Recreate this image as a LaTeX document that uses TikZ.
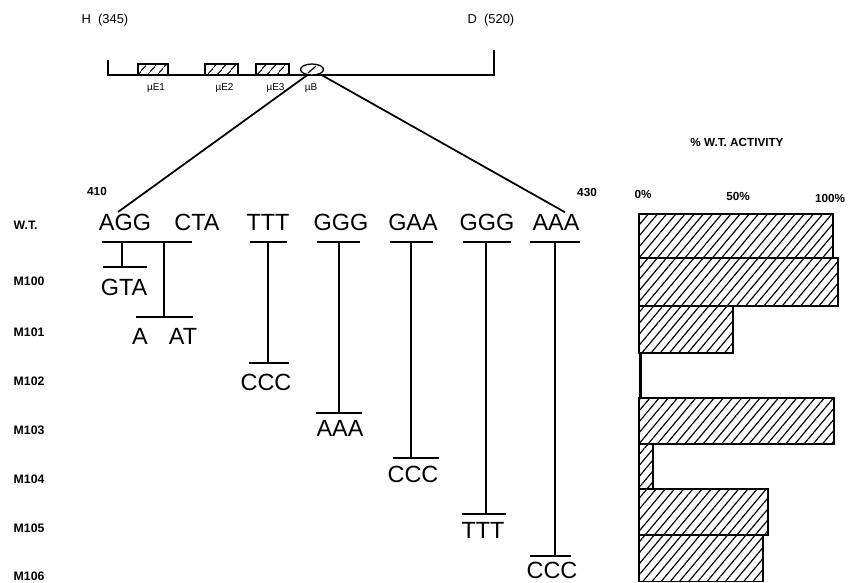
\documentclass[tikz,border=0pt]{standalone}
\usepackage{fontspec}
\setmainfont{Liberation Sans}
\usepackage{tikz}
\usetikzlibrary{calc}
\usetikzlibrary{shapes.geometric}
\usetikzlibrary{patterns.meta}
\usetikzlibrary{positioning}

\tikzset{
    codon/.style={font=\fontsize{20}{20}\selectfont, inner sep=0pt},
    rowlabel/.style={font=\fontsize{10.5}{11}\selectfont\bfseries, inner sep=0pt, anchor=west},
    scalelabel/.style={font=\fontsize{10}{11}\selectfont\bfseries, inner sep=0pt},
    tiny/.style={font=\fontsize{8.5}{9}\selectfont, inner sep=0pt},
    endlabel/.style={font=\fontsize{11}{12}\selectfont, inner sep=0pt},
    hatchbar/.style={draw, line width=1.3pt, pattern={Lines[angle=50, distance=6pt, line width=1pt]}},
    hatchbox/.style={draw, line width=1.1pt, pattern={Lines[angle=50, distance=6.5pt, line width=1.1pt]}}
}

\begin{document}
\begin{tikzpicture}[x=0.03cm, y=-0.03cm, line width=1.2pt]
    \useasboundingbox (0,0) rectangle (849,582);

    % 1. The H--D fragment with the enhancer motifs
    \node[endlabel] (h) at (105,20) {H\ \ (345)};
    \node[endlabel] (d) at (491,20) {D\ \ (520)};
    \draw (108,60) -- (108,75) -- (494,75) -- (494,50);
    \foreach \name/\xl/\xr in {E1/138/168, E2/205/238, E3/256/289} {
        \draw[hatchbox] (\xl,64) rectangle (\xr,75);
        \node[tiny] (l\name) at ({(\xl+\xr)/2+3},88) {µ\name};
    }
    \node[draw, ellipse, line width=1.1pt, fill=white, minimum width=0.69cm, minimum height=0.33cm, inner sep=0pt] (ub) at (312,69.5) {};
    \draw[line width=1pt] (308,73) -- (316,66);
    \node[tiny] (lB) at (311,88) {µB};

    % 2. The wild-type sequence 410--430
    \foreach \n/\x/\s in {1/125/AGG, 2/197/CTA, 3/268/TTT, 4/341/GGG, 5/413/GAA, 6/487/GGG, 7/556/AAA} {
        \node[codon] (w\n) at (\x,222) {\s};
    }
    \node[scalelabel] (p410) at (97,191) {410};
    \node[scalelabel] (p430) at (587,192) {430};
    \draw[line width=1.5pt] (ub.230) -- ($(w1.north)+(-7,-1)$);
    \draw[line width=1.5pt] (ub.330) -- ($(w7.north)+(9,-1)$);

    % underlines below the wild-type codons
    \foreach \xl/\xr in {102/192, 250/287, 317/360, 390/433, 463/511, 530/580} {
        \draw (\xl,242) -- (\xr,242);
    }

    % 3. Row labels
    \foreach \lab/\y in {W.T./225, M100/281, M101/332, M102/381, M103/430, M104/479, M105/528, M106/576} {
        \node[rowlabel] (r\lab) at (13,\y) {\lab};
    }

    % 4. The substituted codons, each hanging from the wild-type line
    \node[codon] (m100) at (124,287) {GTA};
    \node[codon] (m101a) at (140,336) {A};
    \node[codon] (m101b) at (183,336) {AT};
    \node[codon] (m102) at (266,382) {CCC};
    \node[codon] (m103) at (340,428) {AAA};
    \node[codon] (m104) at (413,474) {CCC};
    \node[codon] (m105) at (483,530) {TTT};
    \node[codon] (m106) at (552,570) {CCC};
    \foreach \x/\yb/\xl/\xr in {122/267/103/147, 164/317/136/193, 268/363/249/289, 339/413/316/362, 411/458/393/439, 486/514/462/506, 555/556/530/571} {
        \draw (\x,242) -- (\x,\yb);
        \draw (\xl,\yb) -- (\xr,\yb);
    }

    % 5. Activity bars, 0% at x=639 and 100% at x=833
    \node[scalelabel] (title) at (737,142) {\% W.T. ACTIVITY};
    \node[scalelabel] (a0) at (643,194) {0\%};
    \node[scalelabel] (a50) at (738,196) {50\%};
    \node[scalelabel] (a100) at (830,198) {100\%};
    \foreach \yt/\yb/\v in {214/258/100, 258/306/102.6, 306/353/48.5, 398/444/100.5, 444/489/7.2, 489/535/66.5, 535/581.5/64} {
        \draw[hatchbar] (639,\yt) rectangle ({639+1.94*\v},\yb);
    }
    \fill (638.5,353) rectangle (642,398);
\end{tikzpicture}
\end{document}
